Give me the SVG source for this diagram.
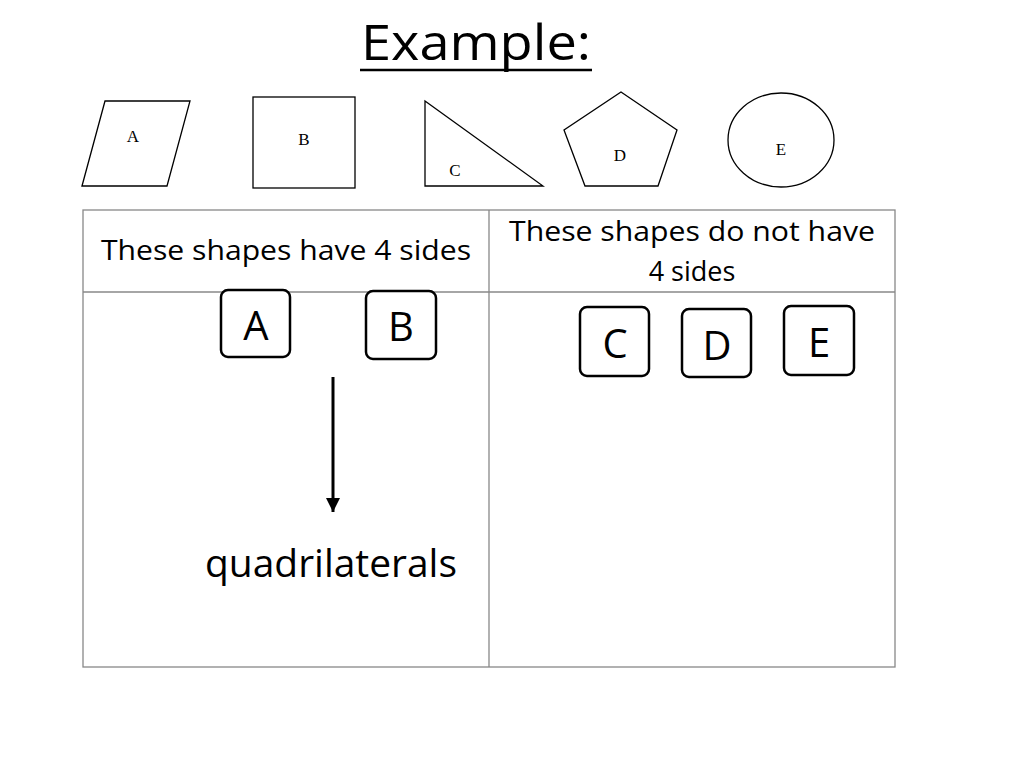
<svg xmlns="http://www.w3.org/2000/svg" width="1024" height="768" viewBox="0 0 1024 768">
<defs>
<style>
.sh{fill:#fff;stroke:#000;stroke-width:1.3}
.sl{font-family:"Liberation Serif",serif;font-size:17px;text-anchor:middle}
.hd{font-family:"Open Sans","Liberation Sans",sans-serif;font-size:27px;text-anchor:middle}
.bx{fill:#fff;stroke:#000;stroke-width:2.5}
.bl{font-family:"Open Sans","Liberation Sans",sans-serif;font-size:40px;text-anchor:middle}
.tl{fill:none;stroke:#888;stroke-width:1.3}
</style>
<marker id="ah" markerWidth="16" markerHeight="20" refX="14" refY="8" orient="auto" markerUnits="userSpaceOnUse" viewBox="0 0 16 16"><path d="M0,1 L14,8 L0,15 Z" fill="#000"/></marker>
</defs>
<rect width="1024" height="768" fill="#fff"/>
<text x="476" y="60" font-family="Open Sans, Liberation Sans, sans-serif" font-size="50" text-anchor="middle" textLength="230" lengthAdjust="spacingAndGlyphs">Example:</text>
<line x1="360" y1="70" x2="592" y2="70" stroke="#000" stroke-width="2.5"/>
<g id="shapeA"><polygon class="sh" points="82,186 105,101 190,101 167,186"/><text class="sl" x="133" y="142">A</text></g>
<g id="shapeB"><rect class="sh" x="253" y="97" width="102" height="91"/><text class="sl" x="304" y="145">B</text></g>
<g id="shapeC"><polygon class="sh" points="425,101 425,186 543,186"/><text class="sl" x="455" y="176">C</text></g>
<g id="shapeD"><polygon class="sh" points="621,92 677,130 658,186 585,186 564,130"/><text class="sl" x="620" y="161">D</text></g>
<g id="shapeE"><ellipse class="sh" cx="781" cy="140" rx="53" ry="47"/><text class="sl" x="781" y="155">E</text></g>
<g id="table">
<rect class="tl" x="83" y="210" width="812" height="457"/>
<line class="tl" x1="489" y1="210" x2="489" y2="667"/>
<line class="tl" x1="83" y1="292" x2="895" y2="292"/>
<text class="hd" x="286" y="260" textLength="370" lengthAdjust="spacingAndGlyphs">These shapes have 4 sides</text>
<text class="hd" x="692" y="241" textLength="366" lengthAdjust="spacingAndGlyphs">These shapes do not have</text>
<text class="hd" x="692" y="281">4 sides</text>
</g>
<g id="boxA"><rect class="bx" x="221" y="290" width="69" height="67" rx="7"/><text class="bl" x="256" y="340">A</text></g>
<g id="boxB"><rect class="bx" x="366" y="291" width="70" height="68" rx="7"/><text class="bl" x="401" y="341">B</text></g>
<g id="boxC"><rect class="bx" x="580" y="307" width="69" height="69" rx="7"/><text class="bl" x="615" y="358">C</text></g>
<g id="boxD"><rect class="bx" x="682" y="309" width="69" height="68" rx="7"/><text class="bl" x="717" y="360">D</text></g>
<g id="boxE"><rect class="bx" x="784" y="306" width="70" height="69" rx="7"/><text class="bl" x="819" y="357">E</text></g>
<g id="connectors"><line x1="333" y1="377" x2="333" y2="512" stroke="#000" stroke-width="3" marker-end="url(#ah)"/></g>
<text x="331" y="577" font-family="Open Sans, Liberation Sans, sans-serif" font-size="38" text-anchor="middle" textLength="252" lengthAdjust="spacingAndGlyphs">quadrilaterals</text>
</svg>
